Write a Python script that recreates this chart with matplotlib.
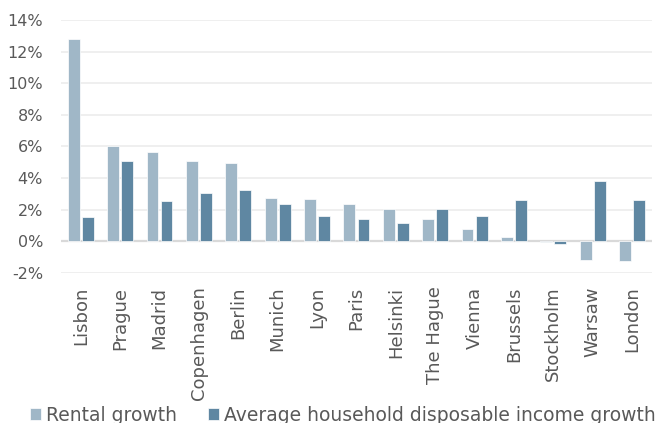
import numpy as np
import matplotlib.pyplot as plt
from matplotlib.ticker import FuncFormatter

cities = ['Lisbon', 'Prague', 'Madrid', 'Copenhagen', 'Berlin', 'Munich', 'Lyon',
          'Paris', 'Helsinki', 'The Hague', 'Vienna', 'Brussels', 'Stockholm',
          'Warsaw', 'London']
rental_growth = [12.8, 6.0, 5.65, 5.1, 4.95, 2.75, 2.68, 2.35, 2.05, 1.38, 0.78,
                 0.25, -0.06, -1.18, -1.28]
income_growth = [1.5, 5.05, 2.52, 3.02, 3.22, 2.32, 1.56, 1.38, 1.17, 2.01, 1.56,
                 2.6, -0.2, 3.8, 2.62]

light = '#a0b7c7'
dark = '#5f87a2'
text_col = '#595959'

plt.rcParams['font.family'] = ['DejaVu Sans']
fig = plt.figure(figsize=(6.57, 4.23), dpi=100)
ax = fig.add_axes([0.093, 0.3553, 0.899, 0.5974])

x = np.arange(len(cities))
w = 0.3
ax.bar(x - 0.179, rental_growth, w, color=light, edgecolor='white', linewidth=0.5,
       label='Rental growth', zorder=3)
ax.bar(x + 0.179, income_growth, w, color=dark, edgecolor='white', linewidth=0.5,
       label='Average household disposable income growth', zorder=3)

ax.set_xlim(-0.5, len(cities) - 0.5)
ax.set_ylim(-2, 14)
ax.set_yticks(np.arange(-2, 15, 2))
ax.yaxis.set_major_formatter(FuncFormatter(lambda v, _: f'{v:.0f}%'))
ax.grid(axis='y', color='#efefef', linewidth=1.4, zorder=0)
ax.axhline(0, color='#d9d9d9', linewidth=1.6, zorder=2)

ax.set_xticks(x)
ax.set_xticklabels(cities, rotation=90)
ax.tick_params(axis='both', length=0, colors=text_col)
ax.tick_params(axis='y', labelsize=11.5, pad=13)
ax.tick_params(axis='x', labelsize=13, pad=10)
for s in ax.spines.values():
    s.set_visible(False)

fig.legend(loc='center left', bbox_to_anchor=(0.046, 0.018), ncol=2, frameon=False,
           fontsize=13.5, handlelength=0.6, handleheight=0.6, handletextpad=0.25,
           columnspacing=1.65, labelcolor=text_col, borderaxespad=0, borderpad=0)

fig.savefig('out.png', dpi=100)
